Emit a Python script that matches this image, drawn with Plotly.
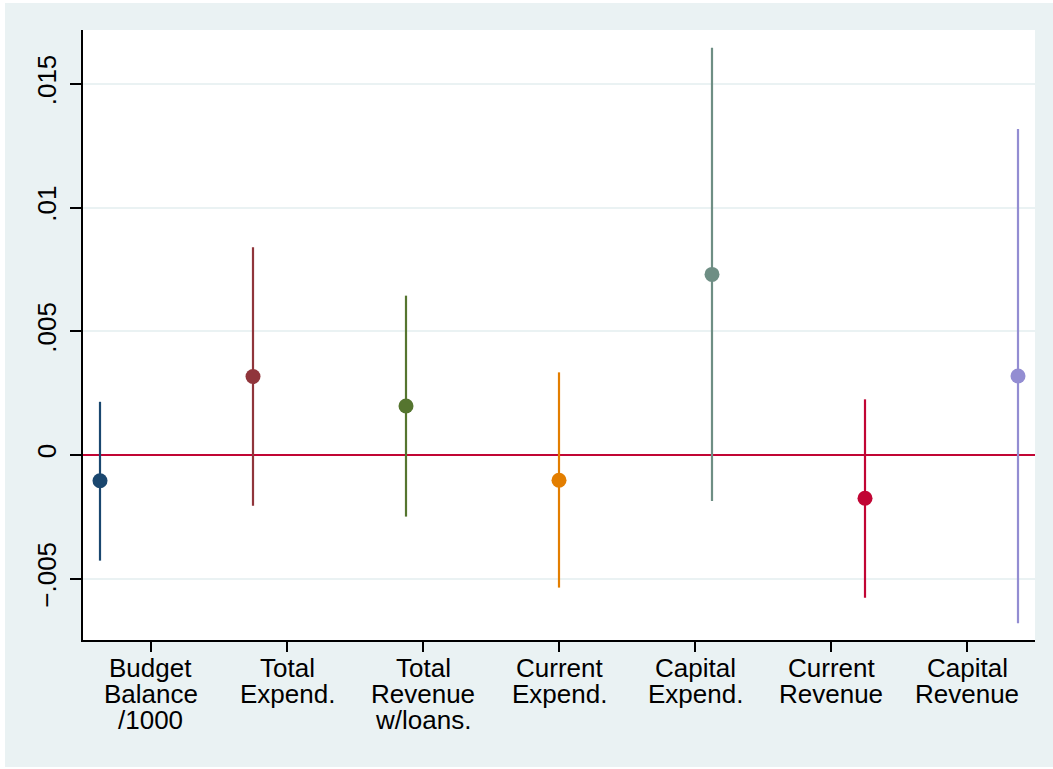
import plotly.graph_objects as go

# ---- data ----
categories = ["Budget<br>Balance<br>/1000", "Total<br>Expend.", "Total<br>Revenue<br>w/loans.",
              "Current<br>Expend.", "Capital<br>Expend.", "Current<br>Revenue", "Capital<br>Revenue"]
point_pos = [1, 2, 3, 4, 5, 6, 7]
tick_pos = [1.3333, 2.2222, 3.1111, 4.0, 4.8889, 5.7778, 6.6667]
coef = [-0.00104, 0.00317, 0.00198, -0.00102, 0.0073, -0.00175, 0.00319]
ci_low = [-0.00427, -0.00205, -0.00249, -0.00536, -0.00186, -0.00577, -0.0068]
ci_high = [0.00215, 0.0084, 0.00644, 0.00334, 0.01646, 0.00225, 0.01318]
colors = ["#1a476f", "#90353b", "#55752f", "#e37e00", "#6e8e84", "#c10534", "#938dd2"]
ytick_vals = [-0.005, 0, 0.005, 0.01, 0.015]
ytick_text = ["\u2212.005", "0", ".005", ".01", ".015"]

BG = "#eaf2f3"
FONT = "Liberation Sans, Arial, Helvetica, sans-serif"

fig = go.Figure()
for i in range(len(coef)):
    fig.add_trace(go.Scatter(
        x=[point_pos[i]], y=[coef[i]], mode="markers",
        marker=dict(size=15, color=colors[i], line=dict(width=0)),
        error_y=dict(type="data", symmetric=False,
                     array=[ci_high[i] - coef[i]], arrayminus=[coef[i] - ci_low[i]],
                     color=colors[i], thickness=2.2, width=0),
        showlegend=False, hoverinfo="skip"))

# x category labels, one annotation per line (tight Stata-like spacing)
annotations = []
for xp, lab in zip(tick_pos, categories):
    for j, line in enumerate(lab.split("<br>")):
        annotations.append(dict(x=xp, y=0, xref="x", yref="paper", text=line,
                                showarrow=False, xanchor="center", yanchor="top",
                                yshift=-(11 + 26 * j),
                                font=dict(family=FONT, size=26, color="black")))

W, H = 1053, 769
ml, mr, mt, mb = 83, 18, 30, 129
pw, ph = W - ml - mr, H - mt - mb

def px_x(p):
    return (p - ml) / pw

def px_y(p):
    return (mt + ph - p) / ph

white = dict(fillcolor="white", line=dict(width=0), layer="below", xref="paper", yref="paper", type="rect")
shapes = [
    dict(white, x0=px_x(-5), x1=px_x(5), y0=px_y(H + 5), y1=px_y(-5)),   # left strip
    dict(white, x0=px_x(-5), x1=px_x(W + 5), y0=px_y(3), y1=px_y(-5)),   # top strip
    dict(white, x0=px_x(-5), x1=px_x(W + 5), y0=px_y(H + 5), y1=px_y(H - 2)),  # bottom strip
]

fig.update_layout(
    width=W, height=H,
    margin=dict(l=ml, r=mr, t=mt, b=mb, pad=0),
    paper_bgcolor=BG,
    plot_bgcolor="white",
    font=dict(family=FONT, size=26, color="black"),
    annotations=annotations,
    shapes=shapes,
    xaxis=dict(range=[8 / 9, 7 + 1 / 9], tickvals=tick_pos, ticktext=[""] * len(tick_pos),
               showticklabels=False, ticks="outside", ticklen=10, tickwidth=1.5, tickcolor="black",
               showgrid=False, zeroline=False, showline=True, linecolor="black", linewidth=1.5),
    yaxis=dict(range=[-0.007478, 0.017178], tickvals=ytick_vals, ticktext=ytick_text,
               tickangle=-90, ticks="outside", ticklen=11, tickwidth=1.5, tickcolor="black",
               tickfont=dict(family=FONT, size=26, color="black"),
               showgrid=True, gridcolor=BG, gridwidth=2,
               zeroline=True, zerolinecolor="#c10534", zerolinewidth=2,
               showline=True, linecolor="black", linewidth=1.5, ticklabelstandoff=4),
)

fig.write_html("out.html")
